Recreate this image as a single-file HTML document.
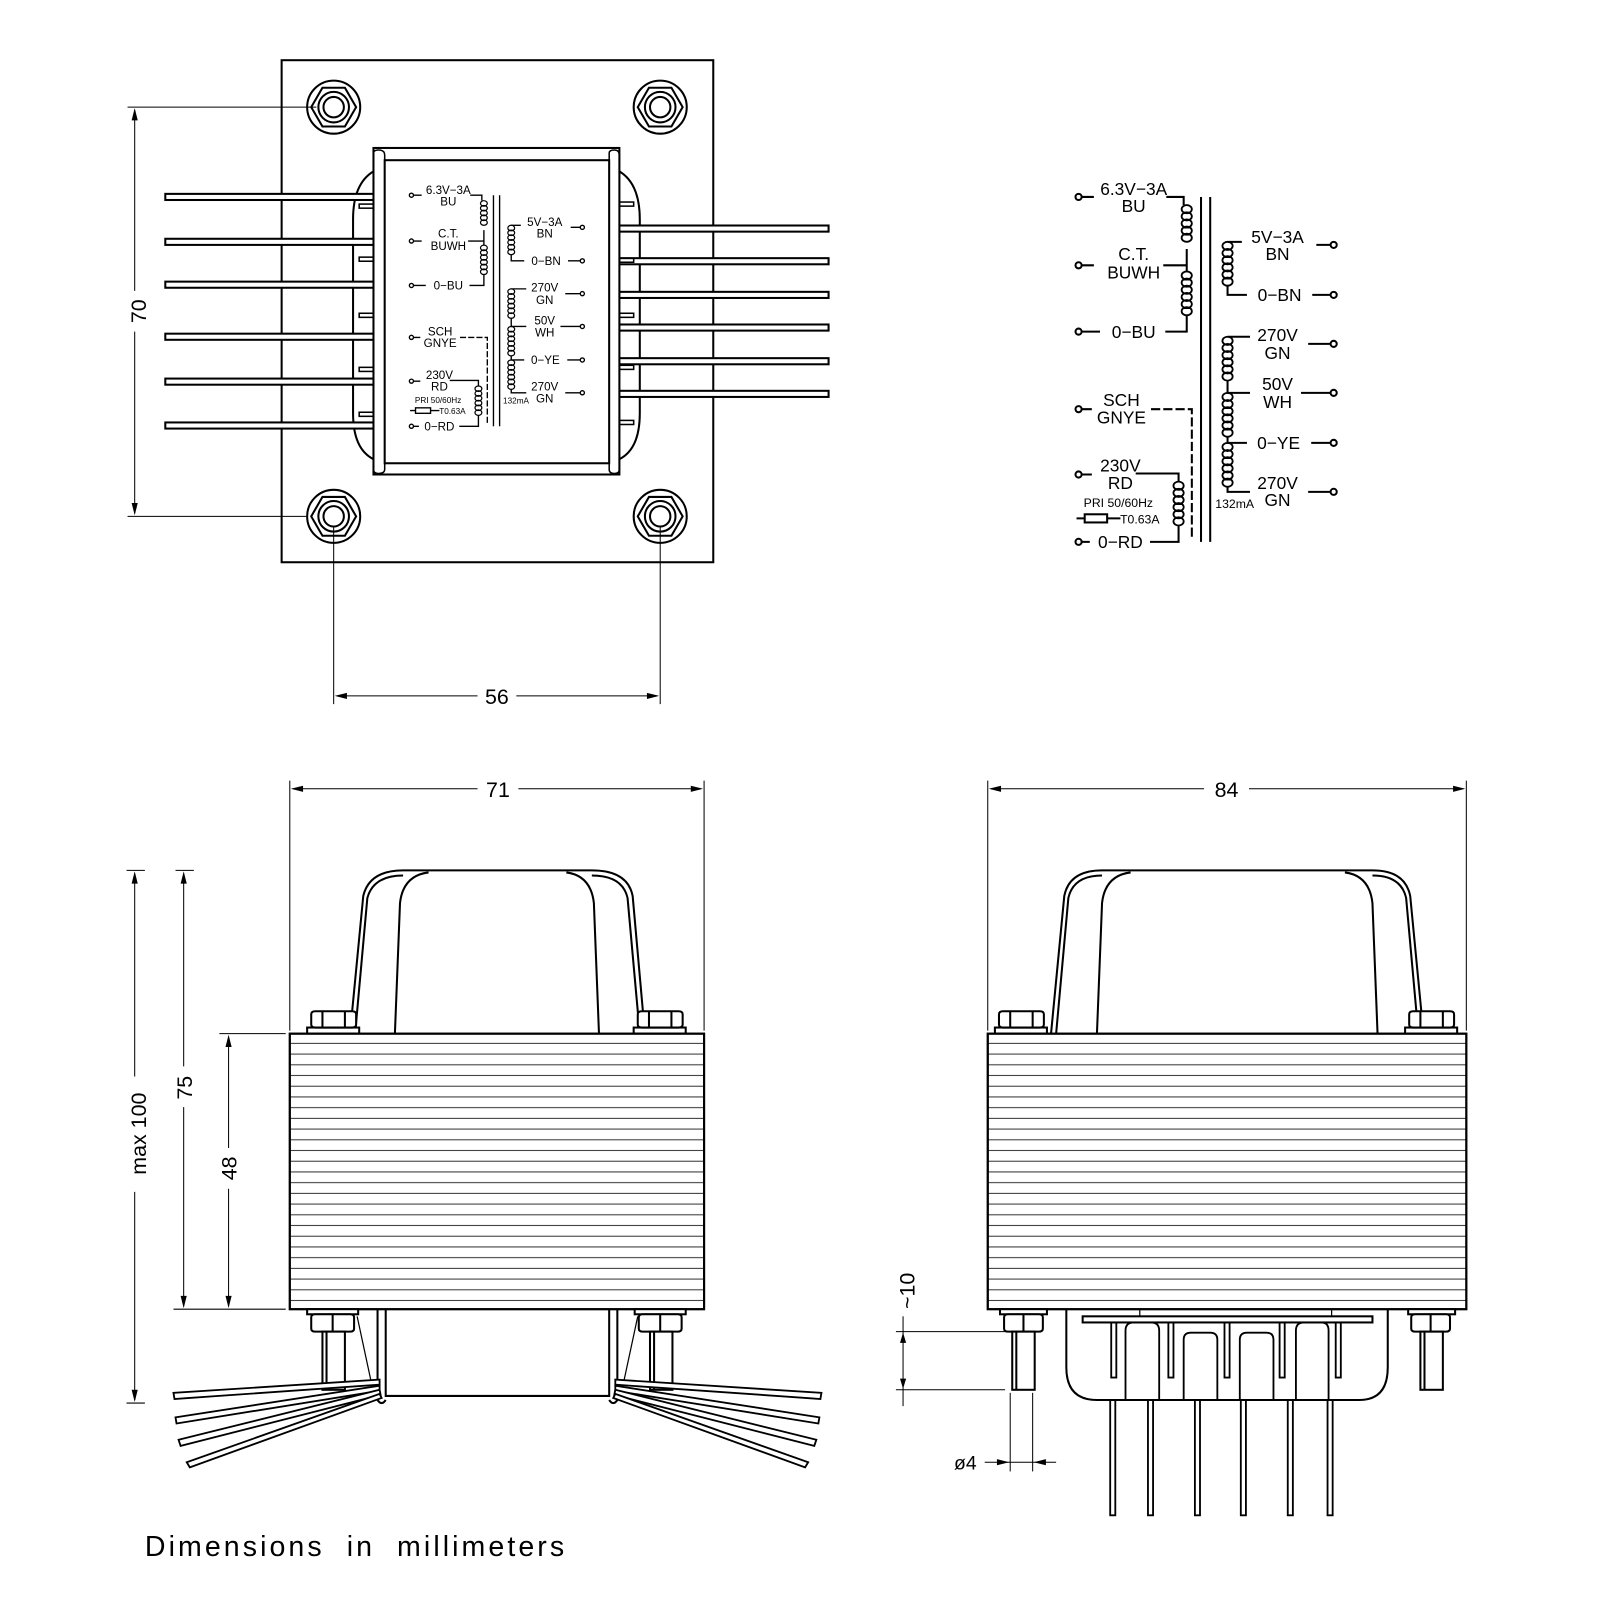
<!DOCTYPE html>
<html><head><meta charset="utf-8"><style>html,body{margin:0;padding:0;background:#fff}svg{display:block}</style></head>
<body>
<svg xmlns="http://www.w3.org/2000/svg" xmlns:xlink="http://www.w3.org/1999/xlink" width="1600" height="1600" viewBox="0 0 1568 1568" font-family="Liberation Sans, sans-serif">
<defs>
<pattern id="lam" x="0" y="1013" width="10" height="10.5" patternUnits="userSpaceOnUse"><rect width="10" height="10.5" fill="#fff"/><line x1="0" y1="9.5" x2="10" y2="9.5" stroke="#333" stroke-width="1"/></pattern>
</defs>
<rect width="1568" height="1568" fill="#fff"/>
<g fill="none" stroke="#000" stroke-width="2">
<rect x="276" y="59" width="423" height="492"/>
<circle cx="327" cy="105" r="26"/><polygon points="349,105 338,86 316,86 305,105 316,124 338,124"/><circle cx="327" cy="105" r="15"/><circle cx="327" cy="105" r="10"/>
<circle cx="647" cy="105" r="26"/><polygon points="669,105 658,86 636,86 625,105 636,124 658,124"/><circle cx="647" cy="105" r="15"/><circle cx="647" cy="105" r="10"/>
<circle cx="327" cy="506" r="26"/><polygon points="349,506 338,487 316,487 305,506 316,525 338,525"/><circle cx="327" cy="506" r="15"/><circle cx="327" cy="506" r="10"/>
<circle cx="647" cy="506" r="26"/><polygon points="669,506 658,487 636,487 625,506 636,525 658,525"/><circle cx="647" cy="506" r="15"/><circle cx="647" cy="506" r="10"/>
<path d="M366,168 Q346,180 346,215 L346,405 Q346,440 366,450"/>
<path d="M607,168 Q627,180 627,215 L627,405 Q627,440 607,450"/>
<g fill="#fff">
<rect x="162" y="190" width="215" height="6"/><rect x="162" y="234" width="215" height="6"/><rect x="162" y="276" width="215" height="6"/><rect x="162" y="327" width="215" height="6"/><rect x="162" y="371" width="215" height="6"/><rect x="162" y="414" width="215" height="6"/>
<rect x="597" y="221" width="215" height="6"/><rect x="597" y="253" width="215" height="6"/><rect x="597" y="286" width="215" height="6"/><rect x="597" y="318" width="215" height="6"/><rect x="597" y="351" width="215" height="6"/><rect x="597" y="383" width="215" height="6"/>
</g>
<g stroke-width="1.5">
<rect x="352" y="200" width="14" height="4"/><rect x="352" y="252" width="14" height="4"/><rect x="352" y="307" width="14" height="4"/><rect x="352" y="360" width="14" height="4"/><rect x="352" y="404" width="14" height="4"/>
<rect x="607" y="198" width="14" height="4"/><rect x="607" y="253" width="14" height="4"/><rect x="607" y="307" width="14" height="4"/><rect x="607" y="358" width="14" height="4"/><rect x="607" y="412" width="14" height="4"/>
</g>
<rect x="366" y="145" width="241" height="320" fill="#fff"/>
<rect x="377" y="157" width="220" height="297"/>
<path d="M366,150 Q366,147 371,147 Q377,147 377,152 L377,460 Q377,464 371,464 Q366,464 366,460Z" stroke-width="1.5"/>
<path d="M597,150 Q597,147 602,147 Q607,147 607,152 L607,460 Q607,464 602,464 Q597,464 597,460Z" stroke-width="1.5"/>
</g>
<g stroke="#000" stroke-width="1" fill="none">
<line x1="125" y1="105" x2="310" y2="105"/><line x1="125" y1="506" x2="300" y2="506"/>
<line x1="132" y1="108" x2="132" y2="285"/><line x1="132" y1="325" x2="132" y2="503"/>
<line x1="327" y1="515" x2="327" y2="690"/><line x1="647" y1="515" x2="647" y2="690"/>
<line x1="330" y1="682" x2="468" y2="682"/><line x1="506" y1="682" x2="644" y2="682"/>
</g>
<g fill="#000">
<polygon points="132,106 129,118 135,118"/><polygon points="132,505 129,493 135,493"/>
<polygon points="328,682 340,679 340,685"/><polygon points="646,682 634,679 634,685"/>
</g>
<text x="0" y="0" font-size="21" transform="translate(143,305) rotate(-90)" text-anchor="middle">70</text>
<text x="487" y="690" font-size="21" text-anchor="middle">56</text>

<g id="sch">
<g fill="none" stroke="#000" stroke-width="2">
<circle cx="1057" cy="193" r="3"/><circle cx="1057" cy="260" r="3"/><circle cx="1057" cy="325" r="3"/><circle cx="1057" cy="401" r="3"/><circle cx="1057" cy="465" r="3"/><circle cx="1057" cy="531" r="3"/>
<circle cx="1307" cy="240" r="3"/><circle cx="1307" cy="289" r="3"/><circle cx="1307" cy="337" r="3"/><circle cx="1307" cy="385" r="3"/><circle cx="1307" cy="434" r="3"/><circle cx="1307" cy="482" r="3"/>
<path d="M1060,193H1072M1060,260H1072M1060,325H1078M1060,401H1070M1060,465H1070M1060,531H1068"/>
<path d="M1143,193H1160V201M1140,260H1163M1163,244V266M1163,309V325H1142"/>
<path d="M1177,193V531M1186,193V531"/>
<path d="M1290,240H1304M1286,289H1304M1282,337H1304M1275,385H1304M1285,434H1304M1282,482H1304"/>
<path d="M1217,237H1203M1203,280V289H1222M1225,330H1203M1203,373V385H1225M1203,428V434H1222M1203,477V482H1225"/>
<path d="M1128,401H1168V528" stroke-dasharray="9,3"/>
<path d="M1113,464H1155V472M1155,515V531H1127"/>
<path d="M1055,508H1098"/><rect x="1063" y="504" width="22" height="8" fill="#fff"/>
<g stroke-width="1.8">
<path d="M1163,201a5,4 0 1 1 0,8a5,4 0 1 1 0,-8m0,7a5,4 0 1 1 0,8a5,4 0 1 1 0,-8m0,7a5,4 0 1 1 0,8a5,4 0 1 1 0,-8m0,7a5,4 0 1 1 0,8a5,4 0 1 1 0,-8m0,7a5,4 0 1 1 0,8a5,4 0 1 1 0,-8"/>
<path d="M1163,266a5,4 0 1 1 0,8a5,4 0 1 1 0,-8m0,7a5,4 0 1 1 0,8a5,4 0 1 1 0,-8m0,7a5,4 0 1 1 0,8a5,4 0 1 1 0,-8m0,7a5,4 0 1 1 0,8a5,4 0 1 1 0,-8m0,7a5,4 0 1 1 0,8a5,4 0 1 1 0,-8m0,7a5,4 0 1 1 0,8a5,4 0 1 1 0,-8"/>
<path d="M1203,237a5,4 0 1 0 0,8a5,4 0 1 0 0,-8m0,7a5,4 0 1 0 0,8a5,4 0 1 0 0,-8m0,7a5,4 0 1 0 0,8a5,4 0 1 0 0,-8m0,7a5,4 0 1 0 0,8a5,4 0 1 0 0,-8m0,7a5,4 0 1 0 0,8a5,4 0 1 0 0,-8m0,7a5,4 0 1 0 0,8a5,4 0 1 0 0,-8"/>
<path d="M1203,330a5,4 0 1 0 0,8a5,4 0 1 0 0,-8m0,7a5,4 0 1 0 0,8a5,4 0 1 0 0,-8m0,7a5,4 0 1 0 0,8a5,4 0 1 0 0,-8m0,7a5,4 0 1 0 0,8a5,4 0 1 0 0,-8m0,7a5,4 0 1 0 0,8a5,4 0 1 0 0,-8m0,7a5,4 0 1 0 0,8a5,4 0 1 0 0,-8"/>
<path d="M1203,385a5,4 0 1 0 0,8a5,4 0 1 0 0,-8m0,7a5,4 0 1 0 0,8a5,4 0 1 0 0,-8m0,7a5,4 0 1 0 0,8a5,4 0 1 0 0,-8m0,7a5,4 0 1 0 0,8a5,4 0 1 0 0,-8m0,7a5,4 0 1 0 0,8a5,4 0 1 0 0,-8m0,7a5,4 0 1 0 0,8a5,4 0 1 0 0,-8"/>
<path d="M1203,434a5,4 0 1 0 0,8a5,4 0 1 0 0,-8m0,7a5,4 0 1 0 0,8a5,4 0 1 0 0,-8m0,7a5,4 0 1 0 0,8a5,4 0 1 0 0,-8m0,7a5,4 0 1 0 0,8a5,4 0 1 0 0,-8m0,7a5,4 0 1 0 0,8a5,4 0 1 0 0,-8m0,7a5,4 0 1 0 0,8a5,4 0 1 0 0,-8"/>
<path d="M1155,472a5,4 0 1 1 0,8a5,4 0 1 1 0,-8m0,7a5,4 0 1 1 0,8a5,4 0 1 1 0,-8m0,7a5,4 0 1 1 0,8a5,4 0 1 1 0,-8m0,7a5,4 0 1 1 0,8a5,4 0 1 1 0,-8m0,7a5,4 0 1 1 0,8a5,4 0 1 1 0,-8m0,7a5,4 0 1 1 0,8a5,4 0 1 1 0,-8"/>
</g>
</g>
<g fill="#000" font-size="17" text-anchor="middle">
<text x="1111" y="191">6.3V−3A</text><text x="1111" y="208">BU</text>
<text x="1111" y="255">C.T.</text><text x="1111" y="273">BUWH</text>
<text x="1111" y="331">0−BU</text>
<text x="1099" y="398">SCH</text><text x="1099" y="415">GNYE</text>
<text x="1098" y="462">230V</text><text x="1098" y="479">RD</text>
<text x="1096" y="497" font-size="12">PRI 50/60Hz</text>
<text x="1117" y="513" font-size="12">T0.63A</text>
<text x="1098" y="537">0−RD</text>
<text x="1252" y="238">5V−3A</text><text x="1252" y="255">BN</text>
<text x="1254" y="295">0−BN</text>
<text x="1252" y="334">270V</text><text x="1252" y="352">GN</text>
<text x="1252" y="382">50V</text><text x="1252" y="400">WH</text>
<text x="1253" y="440">0−YE</text>
<text x="1252" y="479">270V</text><text x="1252" y="496">GN</text>
<text x="1210" y="498" font-size="12">132mA</text>
</g>
</g>
<use xlink:href="#sch" href="#sch" transform="translate(-305,62) scale(0.67)"/>

<g stroke="#000" stroke-width="1" fill="none">
<line x1="284" y1="765" x2="284" y2="1010"/><line x1="690" y1="765" x2="690" y2="1010"/>
<line x1="287" y1="773" x2="468" y2="773"/><line x1="508" y1="773" x2="687" y2="773"/>
<line x1="124" y1="853" x2="142" y2="853"/><line x1="172" y1="853" x2="190" y2="853"/>
<line x1="215" y1="1013" x2="280" y2="1013"/><line x1="170" y1="1283" x2="280" y2="1283"/>
<line x1="124" y1="1375" x2="142" y2="1375"/>
<line x1="132" y1="856" x2="132" y2="1055"/><line x1="132" y1="1168" x2="132" y2="1372"/>
<line x1="180" y1="856" x2="180" y2="1045"/><line x1="180" y1="1085" x2="180" y2="1280"/>
<line x1="224" y1="1016" x2="224" y2="1125"/><line x1="224" y1="1165" x2="224" y2="1280"/>
</g>
<g fill="#000">
<polygon points="285,773 297,770 297,776"/><polygon points="689,773 677,770 677,776"/>
<polygon points="132,854 129,866 135,866"/><polygon points="132,1374 129,1362 135,1362"/>
<polygon points="180,854 177,866 183,866"/><polygon points="180,1282 177,1270 183,1270"/>
<polygon points="224,1014 221,1026 227,1026"/><polygon points="224,1282 221,1270 227,1270"/>
</g>
<text x="488" y="781" font-size="21" text-anchor="middle">71</text>
<text font-size="21" text-anchor="middle" transform="translate(143,1111) rotate(-90)">max  100</text>
<text font-size="21" text-anchor="middle" transform="translate(188,1066) rotate(-90)">75</text>
<text font-size="21" text-anchor="middle" transform="translate(232,1145) rotate(-90)">48</text>

<g fill="none" stroke="#000" stroke-width="2">
<path d="M343,1013 L356,878 Q362,853 395,853 L580,853 Q615,853 620,878 L632,1013"/>
<path d="M348,1013 L360,880 Q366,858 395,858"/>
<path d="M627,1013 L615,880 Q610,858 580,858"/>
<path d="M387,1013 L392,885 Q395,858 420,855 M587,1013 L582,885 Q579,858 555,855"/>
<rect x="301" y="1007" width="51" height="6" fill="#fff"/>
<path d="M305,994 Q305,991 309,991 H345 Q349,991 349,994 V1004 Q349,1007 345,1007 H309 Q305,1007 305,1004Z M316,991V1007 M338,991V1007" fill="#fff"/>
<rect x="621" y="1007" width="51" height="6" fill="#fff"/>
<path d="M625,994 Q625,991 629,991 H665 Q669,991 669,994 V1004 Q669,1007 665,1007 H629 Q625,1007 625,1004Z M636,991V1007 M658,991V1007" fill="#fff"/>
<rect x="284" y="1013" width="406" height="270" fill="url(#lam)"/>
<rect x="284" y="1013" width="406" height="270"/>
<path d="M378,1283 V1368 H597 V1283"/>
<path d="M370,1283 V1372 Q374,1378 378,1372 M605,1283 V1372 Q601,1378 597,1372"/>
<path d="M350,1290 L365,1360 M625,1290 L610,1360" stroke-width="1.2"/>
<rect x="301" y="1283" width="50" height="5" fill="#fff"/>
<path d="M305,1291 Q305,1288 309,1288 H343 Q347,1288 347,1291 V1302 Q347,1305 343,1305 H309 Q305,1305 305,1302Z M326,1288V1305" fill="#fff"/>
<rect x="316" y="1305" width="22" height="57" fill="#fff"/><line x1="320" y1="1305" x2="320" y2="1362"/>
<rect x="622" y="1283" width="50" height="5" fill="#fff"/>
<path d="M626,1291 Q626,1288 630,1288 H664 Q668,1288 668,1291 V1302 Q668,1305 664,1305 H630 Q626,1305 626,1302Z M647,1288V1305" fill="#fff"/>
<rect x="637" y="1305" width="22" height="57" fill="#fff"/><line x1="641" y1="1305" x2="641" y2="1362"/>
<g fill="#fff" stroke-width="1.8">
<polygon points="372,1352 372,1357 171,1371 170,1365"/>
<polygon points="372,1358 372,1363 173,1395 172,1389"/>
<polygon points="372,1362 373,1367 177,1417 175,1411"/>
<polygon points="372,1366 374,1370 186,1438 183,1433"/>
<polygon points="603,1352 603,1357 804,1371 805,1365"/>
<polygon points="603,1358 603,1363 802,1395 803,1389"/>
<polygon points="603,1362 602,1367 798,1417 800,1411"/>
<polygon points="603,1366 601,1370 789,1438 792,1433"/>
</g>
</g>

<g stroke="#000" stroke-width="1" fill="none">
<line x1="968" y1="765" x2="968" y2="1010"/><line x1="1437" y1="765" x2="1437" y2="1010"/>
<line x1="971" y1="773" x2="1180" y2="773"/><line x1="1224" y1="773" x2="1434" y2="773"/>
<line x1="878" y1="1305" x2="985" y2="1305"/><line x1="878" y1="1362" x2="985" y2="1362"/>
<line x1="885" y1="1290" x2="885" y2="1378"/>
<line x1="990" y1="1365" x2="990" y2="1442"/><line x1="1012" y1="1365" x2="1012" y2="1442"/>
<line x1="965" y1="1433" x2="1035" y2="1433"/>
</g>
<g fill="#000">
<polygon points="969,773 981,770 981,776"/><polygon points="1436,773 1424,770 1424,776"/>
<polygon points="885,1306 882,1316 888,1316"/><polygon points="885,1361 882,1351 888,1351"/>
<polygon points="989,1433 977,1430 977,1436"/><polygon points="1013,1433 1025,1430 1025,1436"/>
</g>
<text x="1202" y="781" font-size="21" text-anchor="middle">84</text>
<text font-size="21" text-anchor="middle" transform="translate(896,1265) rotate(-90)">~10</text>
<text x="946" y="1440" font-size="19" text-anchor="middle">ø4</text>

<g fill="none" stroke="#000" stroke-width="2">
<path d="M1030,1013 L1043,878 Q1048,853 1080,853 L1345,853 Q1377,853 1382,878 L1395,1013"/>
<path d="M1035,1013 L1047,880 Q1052,858 1080,858 M1390,1013 L1378,880 Q1373,858 1345,858"/>
<path d="M1075,1013 L1080,885 Q1083,858 1108,855 M1350,1013 L1345,885 Q1342,858 1318,855"/>
<rect x="975" y="1007" width="51" height="6" fill="#fff"/>
<path d="M979,994 Q979,991 983,991 H1019 Q1023,991 1023,994 V1004 Q1023,1007 1019,1007 H983 Q979,1007 979,1004Z M990,991V1007 M1012,991V1007" fill="#fff"/>
<rect x="1377" y="1007" width="51" height="6" fill="#fff"/>
<path d="M1381,994 Q1381,991 1385,991 H1421 Q1425,991 1425,994 V1004 Q1425,1007 1421,1007 H1385 Q1381,1007 1381,1004Z M1392,991V1007 M1414,991V1007" fill="#fff"/>
<rect x="968" y="1013" width="469" height="270" fill="url(#lam)"/>
<rect x="968" y="1013" width="469" height="270"/>
<path d="M1045,1283 V1340 Q1045,1372 1075,1372 H1332 Q1360,1372 1360,1340 V1283"/>
<path d="M1117,1283 V1290 M1305,1283 V1290" stroke-width="1.2"/>
<rect x="1061" y="1290" width="284" height="6" fill="#fff"/>
<g stroke-width="1.8">
<rect x="1089" y="1296" width="5" height="54"/><rect x="1145" y="1296" width="5" height="54"/><rect x="1200" y="1296" width="5" height="54"/><rect x="1254" y="1296" width="5" height="54"/><rect x="1309" y="1296" width="5" height="54"/>
<path d="M1103,1372 V1304 Q1103,1296 1111,1296 H1128 Q1136,1296 1136,1304 V1372"/>
<path d="M1160,1372 V1313 Q1160,1306 1167,1306 H1186 Q1193,1306 1193,1313 V1372"/>
<path d="M1215,1372 V1313 Q1215,1306 1222,1306 H1241 Q1248,1306 1248,1313 V1372"/>
<path d="M1270,1372 V1304 Q1270,1296 1278,1296 H1295 Q1302,1296 1302,1304 V1372"/>
</g>
<g stroke-width="1.8">
<rect x="1088" y="1372" width="5" height="113"/><rect x="1125" y="1372" width="5" height="113"/><rect x="1171" y="1372" width="5" height="113"/><rect x="1216" y="1372" width="5" height="113"/><rect x="1262" y="1372" width="5" height="113"/><rect x="1301" y="1372" width="5" height="113"/>
</g>
<rect x="980" y="1283" width="46" height="5" fill="#fff"/>
<path d="M984,1291 Q984,1288 988,1288 H1018 Q1022,1288 1022,1291 V1302 Q1022,1305 1018,1305 H988 Q984,1305 984,1302Z M1003,1288V1305" fill="#fff"/>
<rect x="992" y="1305" width="22" height="57" fill="#fff"/><line x1="996" y1="1305" x2="996" y2="1362"/>
<rect x="1380" y="1283" width="46" height="5" fill="#fff"/>
<path d="M1383,1291 Q1383,1288 1387,1288 H1417 Q1421,1288 1421,1291 V1302 Q1421,1305 1417,1305 H1387 Q1383,1305 1383,1302Z M1402,1288V1305" fill="#fff"/>
<rect x="1392" y="1305" width="22" height="57" fill="#fff"/><line x1="1396" y1="1305" x2="1396" y2="1362"/>
</g>

<text x="142" y="1525" font-size="28" letter-spacing="3" fill="#000" xml:space="preserve">Dimensions  in  millimeters</text>
</svg>
</body></html>
